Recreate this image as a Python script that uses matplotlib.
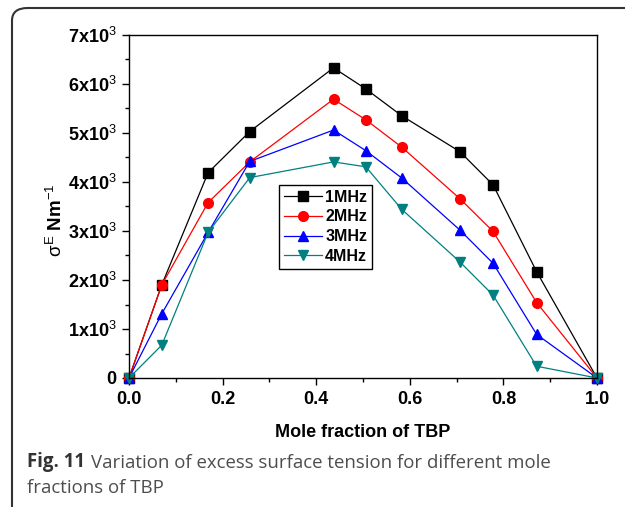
import matplotlib
matplotlib.use("Agg")
import matplotlib.pyplot as plt
from matplotlib.patches import FancyBboxPatch
from matplotlib.ticker import MultipleLocator, FuncFormatter

plt.rcParams['font.family'] = ['Liberation Sans', 'DejaVu Sans']
plt.rcParams['mathtext.fontset'] = 'custom'
plt.rcParams['mathtext.rm'] = 'Liberation Sans'
plt.rcParams['mathtext.it'] = 'Liberation Sans'
plt.rcParams['mathtext.bf'] = 'Liberation Sans:bold'

# mole fraction of TBP
x = [0.0, 0.07, 0.169, 0.258, 0.437, 0.506, 0.583, 0.707, 0.778, 0.871, 1.0]

# excess surface tension values
mhz1 = [0, 1900, 4190, 5030, 6330, 5900, 5350, 4620, 3940, 2170, 0]
mhz2 = [0, 1900, 3580, 4410, 5690, 5270, 4710, 3660, 2990, 1540, 0]
mhz3 = [0, 1310, 2970, 4420, 5060, 4640, 4080, 3020, 2340, 890, 0]
mhz4 = [0, 670, 2970, 4090, 4410, 4310, 3440, 2370, 1690, 240, 0]

labels = ['1MHz', '2MHz', '3MHz', '4MHz']
colors = ['black', 'red', 'blue', '#008080']
markers = ['s', 'o', '^', 'v']

fig = plt.figure(figsize=(6.25, 5.07), dpi=100)

# card border
card = FancyBboxPatch((12 / 625, -0.1), 1.2, (507 - 8) / 507 + 0.1,
                      boxstyle="round,pad=0,rounding_size=0.025",
                      transform=fig.transFigure, fill=False,
                      edgecolor='#333333', lw=1.5, clip_on=False)
fig.patches.append(card)

ax = fig.add_axes([129 / 625, 129 / 507, 468 / 625, 343 / 507])

for ys, lab, c, m in zip([mhz1, mhz2, mhz3, mhz4], labels, colors, markers):
    ax.plot(x, ys, color=c, marker=m, markersize=7, lw=0.9,
            markeredgecolor=c, label=lab, clip_on=False)

ax.set_xlim(0, 1.0)
ax.set_ylim(0, 7000)
ax.xaxis.set_major_locator(MultipleLocator(0.2))
ax.xaxis.set_minor_locator(MultipleLocator(0.1))
ax.yaxis.set_major_locator(MultipleLocator(1000))
ax.yaxis.set_minor_locator(MultipleLocator(500))


def yfmt(v, pos):
    if v == 0:
        return '0'
    return r'%dx10$^{3}$' % round(v / 1000)


ax.yaxis.set_major_formatter(FuncFormatter(yfmt))
ax.xaxis.set_major_formatter(FuncFormatter(lambda v, p: '%.1f' % v))

ax.tick_params(which='both', direction='out', top=False, right=False, width=1)
ax.tick_params(which='major', length=5, labelsize=13, pad=4)
ax.tick_params(which='minor', length=3)
for lab in ax.get_xticklabels() + ax.get_yticklabels():
    lab.set_fontweight('bold')
for s in ax.spines.values():
    s.set_linewidth(1)

ax.set_xlabel('Mole fraction of TBP', fontsize=13, fontweight='bold', labelpad=12)
ax.set_ylabel(r'$\sigma^{E}$ Nm$^{-1}$', fontsize=13.5, fontweight='bold')
ax.yaxis.set_label_coords(-0.134, 0.46)

leg = ax.legend(loc='upper left', bbox_to_anchor=(0.32, 0.563), borderaxespad=0,
                prop={'weight': 'bold', 'size': 11.5}, frameon=True, fancybox=False,
                handlelength=2.4, labelspacing=0.3, handletextpad=0.2,
                borderpad=0.3, edgecolor='black')
leg.get_frame().set_linewidth(1)
leg.get_frame().set_alpha(None)

# caption
cap_font = ['Open Sans', 'DejaVu Sans']
t1 = fig.text(27 / 625, 1 - 467 / 507, 'Fig. 11', fontsize=13.4, fontweight='bold',
              family=cap_font, color='#333333', va='baseline')
ax.annotate('Variation of excess surface tension for different mole',
            xy=(1, 0), xycoords=t1, xytext=(4, 0), textcoords='offset points',
            fontsize=13.4, family=cap_font, color='#4d4d4d',
            va='bottom', ha='left', annotation_clip=False)
fig.text(27 / 625, 1 - 493 / 507, 'fractions of TBP', fontsize=13.4,
         family=cap_font, color='#4d4d4d', va='baseline')

fig.savefig('out.png', dpi=100)
